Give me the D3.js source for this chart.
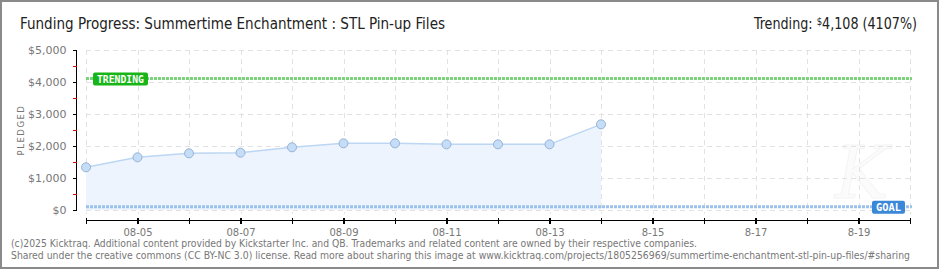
<!DOCTYPE html>
<html>
<head>
<meta charset="utf-8">
<script src="https://cdn.jsdelivr.net/npm/d3@7"></script>
<style>
  body { margin: 0; background: #fff; }
  svg { display: block; }
  .axis path, .axis line { shape-rendering: crispEdges; }
</style>
</head>
<body>
<svg id="chart" width="940" height="270"></svg>
<script>
'use strict';

// data
const days = ['08-04', '08-05', '08-06', '08-07', '08-08', '08-09', '08-10', '08-11', '08-12', '08-13', '08-14'];
const pledged = [1334, 1646, 1771, 1791, 1959, 2083, 2083, 2052, 2052, 2052, 2677];
const axisDays = ['08-04', '08-05', '08-06', '08-07', '08-08', '08-09', '08-10', '08-11', '08-12', '08-13', '08-14',
  '08-15', '08-16', '08-17', '08-18', '08-19', '08-20'];
const tickLabels = { '08-05': '08-05', '08-07': '08-07', '08-09': '08-09', '08-11': '08-11', '08-13': '08-13',
  '08-15': '8-15', '08-17': '8-17', '08-19': '8-19' };
const yTicks = [0, 1000, 2000, 3000, 4000, 5000];
const yMinorTicks = [500, 1500, 2500, 3500, 4500];
const goal = 100;
const trending = 4108;

const parse = (s) => d3.timeParse('%Y-%m-%d')('2025-' + s);
const fmtKey = d3.timeFormat('%m-%d');

const svg = d3.select('#chart');

// frame
svg.append('rect')
    .attr('x', 1).attr('y', 1)
    .attr('width', 937).attr('height', 267)
    .attr('fill', '#fff')
    .attr('stroke', '#8a8a8a')
    .attr('stroke-width', 2);

const x = d3.scaleTime()
    .domain([parse(axisDays[0]), parse(axisDays[axisDays.length - 1])])
    .range([86, 910]);
const y = d3.scaleLinear()
    .domain([0, 5000])
    .range([210, 50]);

// faint watermark
svg.append('text')
    .attr('x', 862).attr('y', 198)
    .attr('text-anchor', 'middle')
    .attr('font-family', 'DejaVu Serif')
    .attr('font-style', 'italic')
    .attr('font-size', 72)
    .attr('fill', '#fbfbfb')
    .attr('stroke', '#f4f4f4')
    .attr('stroke-width', 1)
    .text('K');

// grid
const grid = svg.append('g')
    .attr('stroke', '#e2e2e2')
    .attr('stroke-dasharray', '5,4')
    .attr('shape-rendering', 'crispEdges');
grid.selectAll('line.v')
    .data(axisDays)
    .enter().append('line')
    .attr('class', 'v')
    .attr('x1', (d) => Math.round(x(parse(d))) + 0.5)
    .attr('x2', (d) => Math.round(x(parse(d))) + 0.5)
    .attr('y1', y(5000))
    .attr('y2', y(0) + 4);
grid.selectAll('line.h')
    .data(yTicks)
    .enter().append('line')
    .attr('class', 'h')
    .attr('x1', x.range()[0])
    .attr('x2', x.range()[1])
    .attr('y1', (d) => y(d) + 0.5)
    .attr('y2', (d) => y(d) + 0.5);

// pledged area + line
const pts = days.map((d, i) => ({ date: parse(d), value: pledged[i] }));
const area = d3.area()
    .x((d) => x(d.date))
    .y0(y(0))
    .y1((d) => y(d.value));
svg.append('path')
    .datum(pts)
    .attr('fill', '#edf4fd')
    .attr('d', area);
svg.append('path')
    .datum(pts)
    .attr('fill', 'none')
    .attr('stroke', '#bcd6f3')
    .attr('stroke-width', 1.5)
    .attr('d', d3.line().x((d) => x(d.date)).y((d) => y(d.value)));

// goal & trending lines
function refLine(value, color) {
  svg.append('line')
      .attr('x1', x.range()[0])
      .attr('x2', x.range()[1] + 2)
      .attr('y1', y(value))
      .attr('y2', y(value))
      .attr('stroke', color)
      .attr('stroke-width', 3)
      .attr('stroke-dasharray', '3,1');
}
refLine(trending, '#7dd37d');
refLine(goal, '#9cc1ea');

svg.selectAll('circle.pt')
    .data(pts)
    .enter().append('circle')
    .attr('class', 'pt')
    .attr('cx', (d) => x(d.date))
    .attr('cy', (d) => y(d.value))
    .attr('r', 4.5)
    .attr('fill', '#c6ddf7')
    .attr('stroke', '#94b3d6')
    .attr('stroke-width', 1);

// badges
function badge(bx, by, w, label, color) {
  svg.append('rect')
      .attr('x', bx).attr('y', by)
      .attr('width', w).attr('height', 13)
      .attr('rx', 2)
      .attr('fill', color);
  svg.append('text')
      .attr('x', bx + 4).attr('y', by + 10)
      .attr('font-family', 'DejaVu Sans Mono')
      .attr('font-weight', 'bold')
      .attr('font-size', 10)
      .attr('fill', '#fff')
      .attr('textLength', w - 8)
      .attr('lengthAdjust', 'spacingAndGlyphs')
      .text(label);
}
badge(93, y(trending) - 6, 55, 'TRENDING', '#17b517');
badge(872, y(goal) - 6, 33, 'GOAL', '#3b88d8');

// y axis
const yAxis = svg.append('g')
    .attr('class', 'axis')
    .attr('transform', 'translate(76.5,0)')
    .call(d3.axisLeft(y).tickValues(yTicks).tickSize(4).tickPadding(6).tickFormat((d) => '$' + d3.format(',')(d)));
yAxis.select('.domain').attr('stroke', '#000').attr('stroke-width', 1.5).attr('d', 'M0,' + y(5000) + 'V' + (y(0) + 1));
yAxis.selectAll('.tick line').attr('stroke', '#000').attr('stroke-width', 1.5);
yAxis.selectAll('.tick text')
    .attr('font-family', 'DejaVu Sans')
    .attr('font-size', 11)
    .attr('fill', '#777');
yAxis.selectAll('line.minor')
    .data(yMinorTicks)
    .enter().append('line')
    .attr('class', 'minor')
    .attr('x1', -4).attr('x2', 0)
    .attr('y1', (d) => y(d) + 0.5)
    .attr('y2', (d) => y(d) + 0.5)
    .attr('stroke', '#e00000')
    .attr('stroke-width', 1.5);

svg.append('text')
    .attr('transform', 'translate(24,' + 130 + ') rotate(-90)')
    .attr('text-anchor', 'middle')
    .attr('font-family', 'DejaVu Sans')
    .attr('font-size', 8.5)
    .attr('letter-spacing', 1.5)
    .attr('fill', '#777')
    .text('PLEDGED');

// x axis
const xAxis = svg.append('g')
    .attr('class', 'axis')
    .attr('transform', 'translate(0,220.5)')
    .call(d3.axisBottom(x).tickValues(axisDays.map(parse)).tickSize(4).tickPadding(4)
        .tickFormat((d) => tickLabels[fmtKey(d)] || ''));
xAxis.select('.domain').attr('stroke', '#000').attr('stroke-width', 1.5)
    .attr('d', 'M' + x.range()[0] + ',0H' + (x.range()[1] + 1));
xAxis.selectAll('.tick line').attr('y1', -3).attr('y2', 3).attr('stroke', '#000').attr('stroke-width', 1.5);
xAxis.selectAll('.tick text')
    .attr('font-family', 'DejaVu Sans')
    .attr('font-size', 10)
    .attr('fill', '#777');

// title
svg.append('text')
    .attr('x', 20).attr('y', 29)
    .attr('font-family', 'DejaVu Sans Condensed, DejaVu Sans')
    .attr('font-size', 15)
    .attr('fill', '#222')
    .attr('textLength', 425)
    .attr('lengthAdjust', 'spacingAndGlyphs')
    .text('Funding Progress: Summertime Enchantment : STL Pin-up Files');

const tr = svg.append('text')
    .attr('x', 917).attr('y', 29)
    .attr('text-anchor', 'end')
    .attr('font-family', 'DejaVu Sans Condensed, DejaVu Sans')
    .attr('font-size', 15)
    .attr('fill', '#222')
    .attr('textLength', 163)
    .attr('lengthAdjust', 'spacingAndGlyphs');
tr.append('tspan').text('Trending:  ');
tr.append('tspan').attr('font-size', 10).attr('dy', -4).text('$');
tr.append('tspan').attr('dy', 4).text(d3.format(',')(trending) + ' (' + Math.round(trending / goal * 100 - 1) + '%)');

// footer
const footer = [
  '(c)2025 Kicktraq. Additional content provided by Kickstarter Inc. and QB. Trademarks and related content are owned by their respective companies.',
  'Shared under the creative commons (CC BY-NC 3.0) license. Read more about sharing this image at www.kicktraq.com/projects/1805256969/summertime-enchantment-stl-pin-up-files/#sharing'
];
const footerWidths = [686, 899];
svg.selectAll('text.foot')
    .data(footer)
    .enter().append('text')
    .attr('class', 'foot')
    .attr('x', 11)
    .attr('y', (d, i) => 246.5 + i * 12.5)
    .attr('font-family', 'DejaVu Sans')
    .attr('font-size', 10)
    .attr('fill', '#777')
    .attr('textLength', (d, i) => footerWidths[i])
    .attr('lengthAdjust', 'spacingAndGlyphs')
    .text((d) => d);
</script>
</body>
</html>
